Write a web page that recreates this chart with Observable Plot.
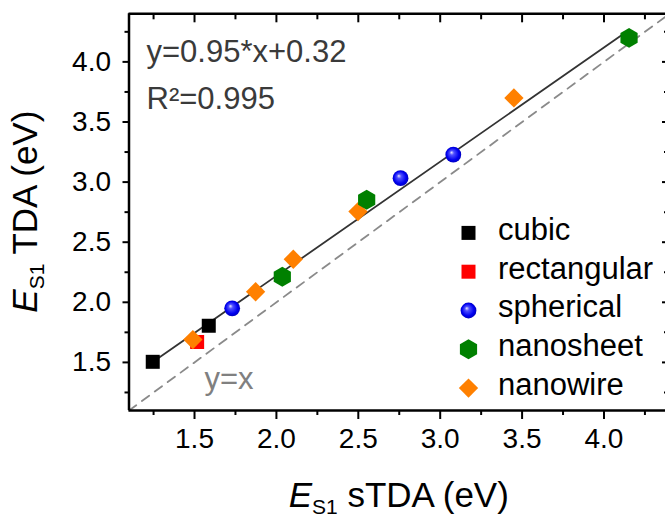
<!DOCTYPE html>
<html><head><meta charset="utf-8">
<script src="https://cdn.jsdelivr.net/npm/d3@7"></script>
<script src="https://cdn.jsdelivr.net/npm/@observablehq/plot@0.6"></script>
<style>html,body{margin:0;padding:0;background:#fff;}</style>
</head><body><div id="chart"></div>
<script>
// ---- data ----
const categories = ["cubic", "rectangular", "spherical", "nanosheet", "nanowire"];
const cubicX = [1.245, 1.587];
const cubicY = [1.505, 1.805];
const rectangularX = [1.516];
const rectangularY = [1.67];
const sphericalX = [1.73, 2.758, 3.08];
const sphericalY = [1.95, 3.033, 3.228];
const nanosheetX = [2.036, 2.551, 4.153];
const nanosheetY = [2.213, 2.853, 4.20];
const nanowireX = [1.49, 1.873, 2.103, 2.498, 3.45];
const nanowireY = [1.69, 2.088, 2.358, 2.755, 3.70];
const fitSlope = 0.95, fitIntercept = 0.32;
const fitText = "y=0.95*x+0.32";
const r2Text = "R²=0.995";
const identityText = "y=x";
const xDomain = [1.1, 4.4];
const yDomain = [1.1, 4.4];
const majorTicks = [1.5, 2.0, 2.5, 3.0, 3.5, 4.0];
const minorTicks = [1.25, 1.75, 2.25, 2.75, 3.25, 3.75, 4.25];

// ---- styles ----
const style = {
  cubic:       {symbol: "square",   fill: "#000000", r: 7.9},
  rectangular: {symbol: "square",   fill: "#ff0000", r: 7.9},
  spherical:   {symbol: "circle",   fill: "url(#sphere)", r: 7.9},
  nanosheet:   {symbol: "hexagon",  fill: "#008000", r: 8.6},
  nanowire:    {symbol: "diamond2", fill: "#ff8000", r: 8.7}
};
const series = {
  cubic: cubicX.map((x, i) => ({x, y: cubicY[i]})),
  rectangular: rectangularX.map((x, i) => ({x, y: rectangularY[i]})),
  spherical: sphericalX.map((x, i) => ({x, y: sphericalY[i]})),
  nanosheet: nanosheetX.map((x, i) => ({x, y: nanosheetY[i]})),
  nanowire: nanowireX.map((x, i) => ({x, y: nanowireY[i]}))
};
const drawOrder = ["cubic", "rectangular", "nanowire", "spherical", "nanosheet"];
const allX = [].concat(cubicX, rectangularX, sphericalX, nanosheetX, nanowireX);
const fitLine = d3.extent(allX).map(x => ({x, y: fitSlope * x + fitIntercept}));
const identityLine = xDomain.map(v => ({x: v, y: v}));

const W = 665, H = 516;
const mL = 128.5, mT = 13.3, mB = 106;
const font = "'Liberation Sans', Arial, sans-serif";

const legendMarks = [];
categories.forEach((c, i) => {
  const s = style[c];
  legendMarks.push(Plot.dot([c], {frameAnchor: "top-left", dx: 339.5, dy: 219.1 + i * 38.8,
    symbol: s.symbol, fill: s.fill, r: s.r, stroke: "none"}));
  legendMarks.push(Plot.text([c], {frameAnchor: "top-left", lineAnchor: "middle", dx: 369, dy: 216 + i * 38.8,
    text: d => d, textAnchor: "start", fontSize: 31, fill: "#000"}));
});

const chart = Plot.plot({
  width: W, height: H,
  marginLeft: mL, marginRight: 0, marginTop: mT, marginBottom: mB,
  x: {domain: xDomain, range: [mL, 669]},
  y: {domain: yDomain, range: [H - mB, mT]},
  style: {fontFamily: font, background: "#fff", color: "#000"},
  marks: [
    Plot.line(identityLine, {x: "x", y: "y", stroke: "#8a8a8a", strokeWidth: 1.8, strokeDasharray: "9,7"}),
    Plot.line(fitLine, {x: "x", y: "y", stroke: "#333", strokeWidth: 1.8}),
    ...drawOrder.map(k => Plot.dot(series[k], {x: "x", y: "y", symbol: style[k].symbol, fill: style[k].fill, r: style[k].r, stroke: "none"})),
    ...legendMarks,
    Plot.text([fitText], {frameAnchor: "top-left", lineAnchor: "middle", dx: 17.5, dy: 38, text: d => d, textAnchor: "start", fontSize: 31, fill: "#3a3a3a"}),
    Plot.text([r2Text], {frameAnchor: "top-left", lineAnchor: "middle", dx: 17.5, dy: 85.5, text: d => d, textAnchor: "start", fontSize: 31, fill: "#3a3a3a"}),
    Plot.text([identityText], {frameAnchor: "top-left", lineAnchor: "middle", dx: 75.5, dy: 365.5, text: d => d, textAnchor: "start", fontSize: 31, fill: "#808080"}),
    // frame
    Plot.ruleX([xDomain[0]], {stroke: "#000", strokeWidth: 2.5}),
    Plot.ruleY([yDomain[0]], {stroke: "#000", strokeWidth: 2.5}),
    Plot.ruleY([yDomain[1]], {stroke: "#000", strokeWidth: 2.5}),
    // axes
    Plot.axisX({anchor: "bottom", ticks: majorTicks, tickSize: 9, tickPadding: 9, tickFormat: d3.format(".1f"), fontSize: 28, strokeWidth: 2, label: null}),
    Plot.axisX({anchor: "bottom", ticks: minorTicks, tickSize: 5, tickFormat: () => "", strokeWidth: 2, label: null}),
    Plot.axisX({anchor: "top", ticks: majorTicks, tickSize: 8, dy: 8, tickFormat: () => "", strokeWidth: 2, label: null}),
    Plot.axisX({anchor: "top", ticks: minorTicks, tickSize: 5, dy: 5, tickFormat: () => "", strokeWidth: 2, label: null}),
    Plot.axisY({anchor: "left", ticks: majorTicks, tickSize: 6, tickPadding: 12, tickFormat: d3.format(".1f"), fontSize: 28, strokeWidth: 2, label: null}),
    Plot.axisY({anchor: "left", ticks: minorTicks, tickSize: 4, tickFormat: () => "", strokeWidth: 2, label: null}),
    Plot.axisY({anchor: "right", ticks: majorTicks, tickSize: 4, dx: -4, tickFormat: () => "", strokeWidth: 2, label: null}),
    Plot.axisY({anchor: "right", ticks: minorTicks, tickSize: 2, dx: -2, tickFormat: () => "", strokeWidth: 2, label: null})
  ]
});

// gradient for spheres
const svg = d3.select(chart);
const defs = svg.insert("defs", ":first-child");
const g = defs.append("radialGradient").attr("id", "sphere").attr("cx", "50%").attr("cy", "50%").attr("r", "55%").attr("fx", "38%").attr("fy", "35%");
g.append("stop").attr("offset", "0%").attr("stop-color", "#e8e8ff");
g.append("stop").attr("offset", "25%").attr("stop-color", "#5050ff");
g.append("stop").attr("offset", "70%").attr("stop-color", "#0000f0");
g.append("stop").attr("offset", "100%").attr("stop-color", "#0000b0");

// axis titles with subscripts
const xs = chart.scale("x").range, ys = chart.scale("y").range;
function title(sel, rest) {
  sel.append("tspan").attr("font-style", "italic").text("E");
  sel.append("tspan").attr("font-size", 21).attr("dy", 7).text("S1");
  sel.append("tspan").attr("dy", -7).text(" " + rest);
}
const xt = svg.append("text").attr("x", (xs[0] + xs[1]) / 2).attr("y", 507)
  .attr("text-anchor", "middle").attr("font-size", 35).attr("font-family", font).attr("fill", "#000");
title(xt, "sTDA (eV)");
const yt = svg.append("text").attr("transform", `translate(37,${(ys[0] + ys[1]) / 2}) rotate(-90)`)
  .attr("text-anchor", "middle").attr("font-size", 35).attr("font-family", font).attr("fill", "#000");
title(yt, "TDA (eV)");

document.getElementById("chart").appendChild(chart);
</script>
</body></html>
